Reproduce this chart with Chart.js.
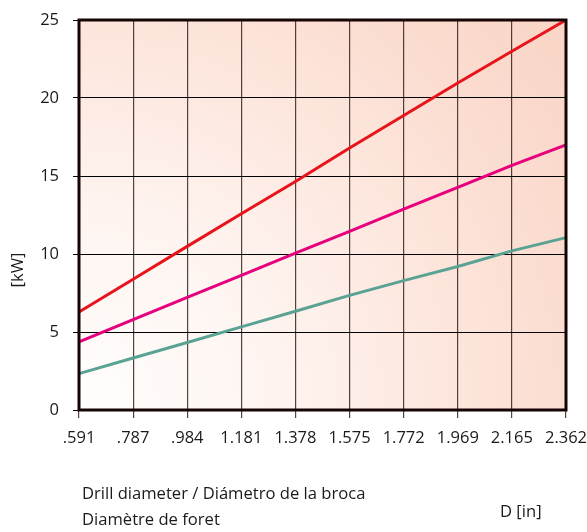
<!DOCTYPE html>
<html>
<head>
<meta charset="utf-8">
<script src="https://cdn.jsdelivr.net/npm/chart.js@4.4.1/dist/chart.umd.min.js"></script>
<style>
html,body{margin:0;padding:0;background:#fff;}
#wrap{position:relative;width:587px;height:532px;}
</style>
</head>
<body>
<div id="wrap"><canvas id="c" width="587" height="532"></canvas></div>
<script>
const diameters = [".591", ".787", ".984", "1.181", "1.378", "1.575", "1.772", "1.969", "2.165", "2.362"];
const powerHigh = [6.28, 8.38, 10.49, 12.58, 14.65, 16.8, 18.88, 20.96, 23.0, 25.0];
const powerMid  = [4.36, 5.8, 7.22, 8.63, 10.06, 11.45, 12.88, 14.27, 15.68, 17.0];
const powerLow  = [2.33, 3.33, 4.33, 5.33, 6.33, 7.35, 8.29, 9.2, 10.2, 11.05];
const yTicks = [0, 5, 10, 15, 20, 25];
const yTitle = "[kW]";
const xTitleLines = ["Drill diameter / Diámetro de la broca", "Diamètre de foret"];
const unitLabel = "D [in]";

const FONT = "'Open Sans', 'Noto Sans', sans-serif";

const decor = {
  id: 'decor',
  beforeDraw(chart) {
    const {ctx, chartArea: a} = chart;
    const r = Math.hypot(a.right - a.left, a.bottom - a.top);
    const g = ctx.createRadialGradient(a.left, a.bottom, 0, a.left, a.bottom, r);
    g.addColorStop(0, '#fffefd');
    g.addColorStop(0.3, '#fef5f1');
    g.addColorStop(0.62, '#fde5db');
    g.addColorStop(0.78, '#fbddd1');
    g.addColorStop(1, '#f9d5c5');
    ctx.save();
    ctx.fillStyle = g;
    ctx.fillRect(a.left, a.top, a.right - a.left, a.bottom - a.top);
    ctx.restore();
  },
  afterDraw(chart) {
    const {ctx, chartArea: a} = chart;
    ctx.save();
    ctx.strokeStyle = '#160404';
    ctx.lineWidth = 3;
    ctx.strokeRect(a.left, a.top, a.right - a.left, a.bottom - a.top);
    ctx.fillStyle = '#1a1a1a';
    ctx.font = "16.6px " + FONT;
    ctx.textBaseline = 'middle';
    ctx.textAlign = 'left';
    ctx.fillText(xTitleLines[0], 82, 494);
    ctx.fillText(xTitleLines[1], 82, 520);
    ctx.fillText(unitLabel, 500, 512);
    ctx.translate(18, 270);
    ctx.rotate(-Math.PI / 2);
    ctx.textAlign = 'center';
    ctx.fillText(yTitle, 0, 0);
    ctx.restore();
  }
};

new Chart(document.getElementById('c'), {
  type: 'line',
  data: {
    labels: diameters,
    datasets: [
      {data: powerHigh, borderColor: '#e8141c', borderWidth: 3, pointRadius: 0, tension: 0},
      {data: powerMid, borderColor: '#e6007e', borderWidth: 3, pointRadius: 0, tension: 0},
      {data: powerLow, borderColor: '#5aa394', borderWidth: 3, pointRadius: 0, tension: 0}
    ]
  },
  options: {
    responsive: false,
    animation: false,
    devicePixelRatio: 1,
    layout: {padding: {left: 0, top: 20, right: 21, bottom: 0}},
    plugins: {legend: {display: false}, tooltip: {enabled: false}},
    scales: {
      x: {
        offset: false,
        grid: {color: 'rgba(40,20,20,0.8)', lineWidth: 1.2, tickLength: 8, drawTicks: true},
        border: {display: false},
        ticks: {color: '#1a1a1a', font: {family: FONT, size: 16.5}, padding: 10, maxRotation: 0, autoSkip: false},
        afterFit(s) { s.height = 122; s.paddingLeft = 0; s.paddingRight = 0; }
      },
      y: {
        min: 0, max: 25,
        afterBuildTicks(s) { s.ticks = yTicks.map(v => ({value: v})); },
        grid: {color: '#000', lineWidth: 1, tickLength: 6},
        border: {display: false},
        ticks: {color: '#1a1a1a', font: {family: FONT, size: 16.5}, padding: 14},
        afterFit(s) { s.width = 79; s.paddingTop = 0; s.paddingBottom = 0; }
      }
    }
  },
  plugins: [decor]
});
</script>
</body>
</html>
